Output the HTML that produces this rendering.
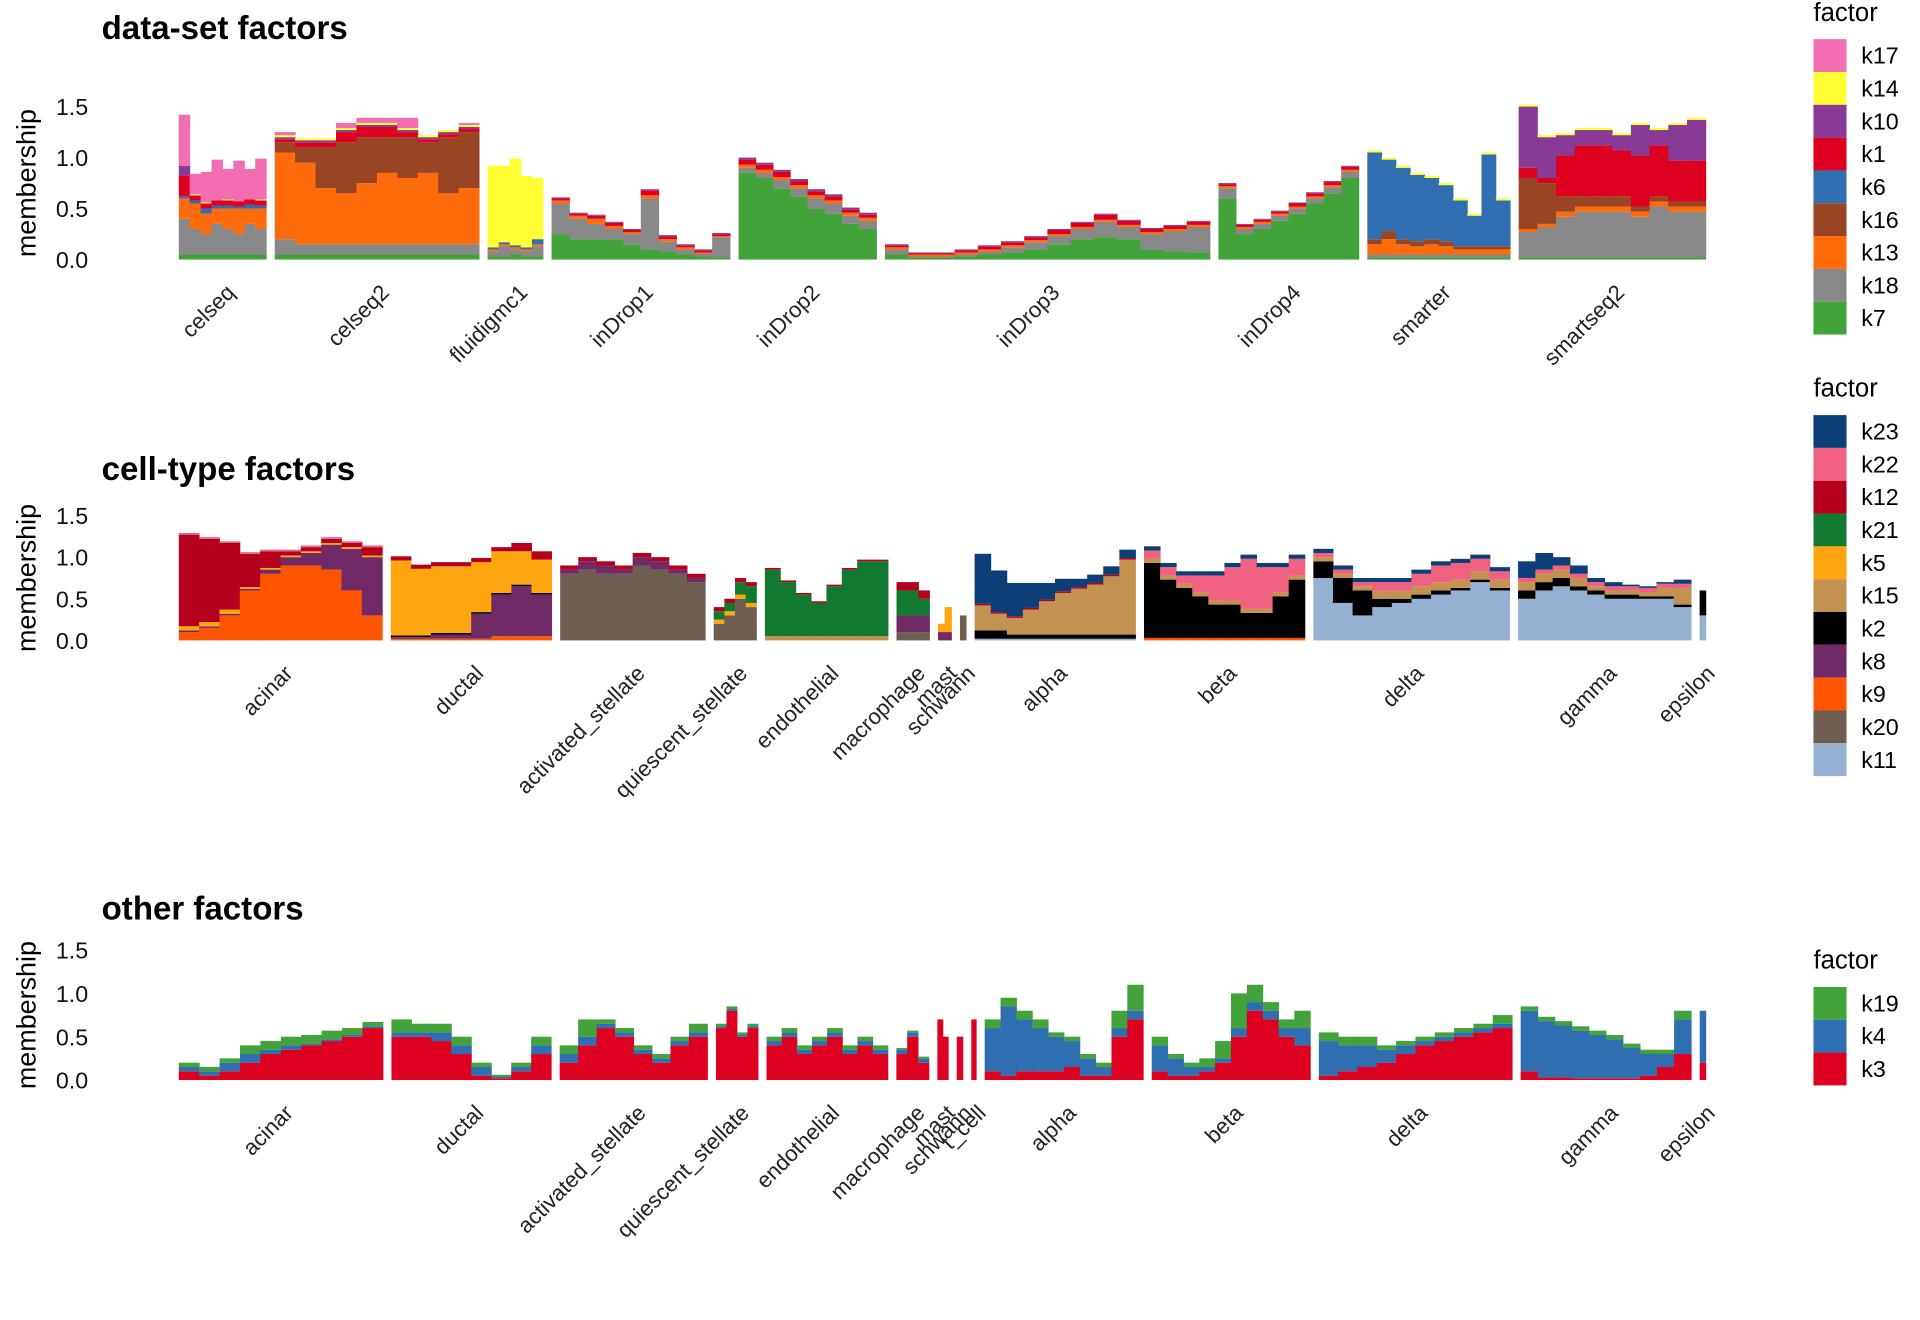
<!DOCTYPE html>
<html><head><meta charset="utf-8"><style>
html,body{margin:0;padding:0;background:#fff;}
svg{display:block;font-family:"Liberation Sans",Arial,sans-serif;}
</style></head><body>
<svg id="chart" width="1920" height="1320" viewBox="0 0 1568 1078" preserveAspectRatio="none" xmlns="http://www.w3.org/2000/svg"></svg>
<script>
// ---------- Panel 1: data-set factors ----------
const groups1 = ["celseq","celseq2","fluidigmc1","inDrop1","inDrop2","inDrop3","inDrop4","smarter","smartseq2"];
const counts1 = [71,166,45,145,112,264,114,116,152];
const factors1 = ["k7","k18","k13","k16","k6","k1","k10","k14","k17"]; // bottom-up
const colors1 = ["#41a33a","#888888","#ff6a0a","#994422","#2f6eb0","#de0020","#883a96","#ffff33","#f26db1"];
const k7_1 = [.05,.05,[.03,.03,.05,.03,.03],[.25,.2,.2,.2,.15,.1,.08,.05,.03,.02],[.85,.8,.7,.62,.5,.45,.35,.3],[.05,.02,.02,.03,.05,.07,.1,.15,.2,.22,.2,.1,.08,.07],[.6,.25,.3,.38,.45,.55,.65,.8],.02,.02];
const k18_1 = [[.35,.25,.2,.3,.25,.2,.3,.25],[.15,.1,.1,.1,.1,.1,.1,.1,.1,.1],[.05,.1,.05,.05,.1],[.3,.2,.15,.1,.1,.5,.1,.05,.03,.2],[.05,.05,.08,.08,.1,.1,.08,.08],[.05,.01,.01,.02,.03,.05,.07,.08,.1,.15,.12,.15,.2,.25],[.1,.05,.05,.05,.05,.05,.06,.06],.03,[.25,.3,.4,.45,.45,.45,.4,.5,.45,.45]];
const k13_1 = [[.2,.25,.2,.15,.2,.25,.15,.2],[.85,.8,.55,.5,.6,.7,.65,.7,.5,.55],.02,[.03,.03,.05,.03,.02,.03,.02,.02,.01,.01],.03,.02,.02,[.1,.15,.1,.08,.1,.08,.05,.05,.05,.05],[.03,.03,.05,.05,.05,.05,.05,.05,.05,.05]];
const k16_1 = [0,[.1,.15,.4,.5,.45,.35,.4,.3,.55,.55],0,0,0,0,0,[.05,.08,.05,.05,.05,.05,.03,.03,.03,.03],[.5,.4,.15,.1,.1,.1,.05,.05,.05,.05]];
const k6_1 = [[.02,.03,.05,.03,.03,.02,.04,.03],0,[.02,.02,.02,.02,.05],0,0,0,0,[.85,.7,.7,.65,.6,.55,.45,.3,.9,.45],0];
const k1_1 = [[.2,.05,.05,.05,.05,.05,.05,.05],[.03,.05,.05,.1,.1,.1,.05,.03,.03,.03],0,[.02,.02,.03,.03,.02,.05,.03,.02,.02,.02],[.05,.05,.05,.04,.04,.04,.03,.03],[.02,.01,.01,.02,.03,.03,.03,.04,.04,.05,.04,.03,.03,.03],[.02,.02,.02,.02,.03,.03,.03,.03],0,[.1,.05,.4,.5,.5,.45,.5,.5,.4,.4]];
const k10_1 = [[.1,0,0,0,0,0,0,0],.02,0,.01,.02,.01,.01,0,[.6,.4,.2,.15,.15,.15,.3,.15,.35,.4]];
const k14_1 = [[0,.01,.01,0,.01,0,0,.01],.02,[.8,.75,.85,.7,.6],0,0,0,0,.02,.02];
const k17_1 = [[.5,.2,.3,.4,.3,.4,.3,.4],[.03,0,0,.05,.05,.05,.1,0,0,.02],0,0,0,0,0,0,0];
const series1 = [k7_1,k18_1,k13_1,k16_1,k6_1,k1_1,k10_1,k14_1,k17_1];

// ---------- Panel 2: cell-type factors ----------
const groups2 = ["acinar","ductal","activated_stellate","quiescent_stellate","endothelial","macrophage","mast","schwann","alpha","beta","delta","gamma","epsilon"];
const counts2 = [167,132,119,35,101,27,11,5,132,132,161,142,5];
const factors2 = ["k11","k20","k9","k8","k2","k15","k5","k21","k12","k22","k23"];
const colors2 = ["#96b0d3","#6e5e51","#ff5500","#702a65","#000000","#c49250","#ffa510","#117a30","#b5001e","#f06080","#0c3f78"];
const k11_2 = [0,0,0,0,0,0,0,0,.02,0,[.75,.45,.3,.4,.45,.5,.55,.6,.7,.6],[.5,.6,.65,.6,.55,.5,.5,.5,.5,.4],.3];
const k20_2 = [0,0,[.8,.85,.8,.8,.9,.85,.8,.7],[.2,.3,.5,.4],0,[.1,.1,.1],0,.3,0,0,0,0,0];
const k9_2 = [[.1,.15,.3,.6,.8,.9,.9,.85,.6,.3],[.02,.02,.02,.02,.02,.05,.05,.05],0,0,0,0,0,0,0,.03,0,0,0];
const k8_2 = [[.02,.02,.02,.02,.05,.1,.15,.3,.5,.7],[.02,.02,.05,.05,.3,.5,.6,.5],[.05,.1,.1,.05,.1,.1,.05,.05],0,0,[.2,.2,.2],[.1,.1],0,0,0,0,0,0];
const k2_2 = [0,.02,0,0,0,0,0,0,[.1,.1,.05,.05,.05,.05,.05,.05,.05,.05],[.9,.7,.6,.5,.4,.4,.3,.3,.5,.7],[.2,.3,.3,.1,.05,.05,.05,.03,.03,.03],[.1,.1,.1,.05,.05,.05,.05,.03,.03,.03],.3];
const k15_2 = [0,0,0,0,.05,0,0,0,[.3,.2,.2,.3,.4,.5,.55,.6,.7,.9],.05,[.05,.05,.05,.1,.1,.1,.1,.1,.1,.1],[.1,.1,.1,.1,.05,.05,.05,.05,.1,.2],0];
const k5_2 = [[.05,.05,.05,.02,.02,.02,.02,.02,.02,.02],[.9,.8,.8,.8,.6,.5,.4,.4],0,.05,0,0,[.1,.3],0,0,0,0,0,0];
const k21_2 = [0,0,0,[.1,.1,.15,.2],[.8,.65,.5,.4,.6,.8,.9,.9],[.3,.3,.2],0,0,0,0,0,0,0];
const k12_2 = [[1.1,1.0,.8,.4,.2,.05,.05,.05,.05,.1],[.05,.05,.05,.05,.05,.05,.1,.1],.05,.05,.02,.1,0,0,.02,0,0,0,0];
const k22_2 = [.02,0,0,0,0,0,0,0,0,[.1,.1,.1,.2,.3,.4,.6,.5,.3,.2],[.05,.05,.05,.1,.1,.15,.2,.2,.15,.1],.05,0];
const k23_2 = [0,0,0,0,0,0,0,0,[.6,.5,.4,.3,.2,.15,.1,.1,.1,.1],.05,.05,[.2,.2,.1,.1,.05,.05,.02,.02,.02,.05],0];
const series2 = [k11_2,k20_2,k9_2,k8_2,k2_2,k15_2,k5_2,k21_2,k12_2,k22_2,k23_2];

// ---------- Panel 3: other factors ----------
const groups3 = ["acinar","ductal","activated_stellate","quiescent_stellate","endothelial","macrophage","mast","schwann","t_cell","alpha","beta","delta","gamma","epsilon"];
const counts3 = [170,133,123,35,101,27,9,5,4,132,132,161,142,5];
const factors3 = ["k3","k4","k19"];
const colors3 = ["#de0020","#2f6eb0","#41a33a"];
const k3_3 = [[.1,.05,.1,.2,.3,.35,.4,.45,.5,.6],[.5,.5,.45,.3,.05,.02,.1,.3],[.2,.4,.6,.5,.3,.2,.4,.5],[.6,.8,.5,.6],[.4,.5,.3,.4,.5,.3,.4,.3],[.3,.5,.2],[.7,.5],.5,.7,[.1,.05,.1,.1,.1,.15,.05,.05,.5,.7],[.1,.05,.05,.1,.2,.5,.8,.7,.5,.4],[.05,.1,.15,.2,.3,.4,.45,.5,.55,.6],[.1,.03,.03,.02,.02,.02,.02,.05,.15,.3],.2];
const k4_3 = [[.05,.05,.1,.1,.05,.05,.02,.02,.02,.02],[.05,.05,.1,.1,.1,.02,.05,.1],[.1,.1,.05,.05,.05,.05,.05,.05],.02,.05,.05,0,0,0,[.5,.8,.6,.5,.4,.3,.2,.1,.1,.1],[.3,.2,.1,.05,.05,.1,.1,.1,.1,.2],[.4,.3,.25,.15,.1,.05,.05,.05,.05,.05],[.7,.65,.6,.55,.5,.45,.35,.25,.15,.4],.6];
const k19_3 = [[.05,.05,.05,.1,.1,.1,.1,.1,.08,.05],[.15,.1,.1,.1,.05,.02,.05,.1],[.1,.2,.05,.05,.05,.05,.05,.1],.03,.05,.02,0,0,0,[.1,.1,.1,.1,.05,.05,.05,.05,.2,.3],[.1,.05,.05,.1,.2,.4,.2,.1,.1,.2],[.1,.1,.1,.05,.05,.05,.05,.05,.05,.1],[.05,.05,.05,.05,.05,.05,.05,.05,.05,.1],0];
const series3 = [k3_3,k4_3,k19_3];

const yTicks = [0,0.5,1.0,1.5];
const yTickLabels = ["0.0","0.5","1.0","1.5"];

const NS = "http://www.w3.org/2000/svg";
const svg = document.getElementById('chart');
function mk(tag, attrs, parent){ const e=document.createElementNS(NS,tag); for(const k in attrs) e.setAttribute(k,attrs[k]); (parent||svg).appendChild(e); return e; }

const X0 = 146, X1 = 1393, GAP = 7;

function drawPanel(p){
  const g = mk('g',{});
  
  
  const t = mk('text',{x:83,y:p.titleY,'font-size':27,'font-weight':'bold',fill:'#000'},g);
  t.textContent = p.title;
  
  
  const yl = mk('text',{x:0,y:0,'font-size':22,'text-anchor':'middle',fill:'#000',transform:`translate(29,${p.y0 - 0.75*p.unit}) rotate(-90)`},g);
  yl.textContent = 'membership';
  
  
  const yScale = v => p.y0 - v*p.unit;
  yTicks.forEach((v,i)=>{
    const tt = mk('text',{x:72,y:yScale(v)+7,'font-size':19,'text-anchor':'end',fill:'#111'},g);
    tt.textContent = yTickLabels[i];
    
    
  });
  const total = p.counts.reduce((a,b)=>a+b,0);
  const avail = (X1-X0) - GAP*(p.counts.length-1);
  let x = X0;
  p.groups.forEach((gname, gi)=>{
    const gw = p.counts[gi]/total*avail;
    let n = 1;
    p.series.forEach(s=>{ if(Array.isArray(s[gi])) n=Math.max(n,s[gi].length); });
    const bw = gw/n;
    for(let b=0;b<n;b++){
      let cum = 0;
      p.series.forEach((s,fi)=>{
        const d = s[gi];
        const v = Array.isArray(d) ? (d[b]||0) : d;
        if(v>0){
          const r = mk('rect',{x:x+b*bw, y:yScale(cum+v), width:bw+0.4, height:v*p.unit, fill:p.colors[fi]},g);
          
          
        }
        cum += v;
      });
    }
    const cx = x + gw/2;
    const lbl = mk('text',{x:0,y:0,'font-size':18,'text-anchor':'end',fill:'#222',transform:`translate(${cx+11},${p.y0+28}) rotate(-45)`},g);
    lbl.textContent = gname;
    
    
    x += gw + GAP;
  });
  // legend
  const lg = mk('g',{},svg);
  
  
  const lt = mk('text',{x:1481,y:p.legY,'font-size':21,fill:'#000'},lg);
  lt.textContent = 'factor';
  
  
  const nF = p.factors.length;
  for(let i=0;i<nF;i++){
    const fi = nF-1-i;
    const yy = p.legY+15+i*26.8;
    const sw = mk('rect',{x:1481,y:yy,width:27,height:26.8,fill:p.colors[fi]},lg);
    
    
    const st = mk('text',{x:1520,y:yy+20,'font-size':19,fill:'#000'},lg);
    st.textContent = p.factors[fi];
    
    
  }
}

drawPanel({name:'data-set-panel',title:'data-set factors',titleY:32,y0:212,unit:83.3,groups:groups1,counts:counts1,factors:factors1,colors:colors1,series:series1,legY:17});
drawPanel({name:'cell-type-panel',title:'cell-type factors',titleY:392,y0:523,unit:68,groups:groups2,counts:counts2,factors:factors2,colors:colors2,series:series2,legY:324});
drawPanel({name:'other-panel',title:'other factors',titleY:751,y0:882,unit:70.7,groups:groups3,counts:counts3,factors:factors3,colors:colors3,series:series3,legY:791});
</script>
</body></html>
